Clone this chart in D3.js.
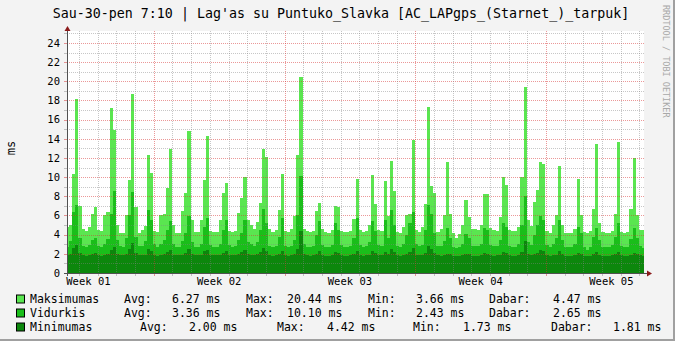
<!DOCTYPE html>
<html><head><meta charset="utf-8">
<script src="https://cdn.jsdelivr.net/npm/d3@7"></script>
<style>body{margin:0;background:#F3F3F3} svg{display:block}</style>
</head><body><svg id="c" width="675" height="341"></svg>
<script>
const titleText = "Sau-30-pen 7:10 | Lag'as su Puntuko_Slavka [AC_LAPgps_(Starnet_)_tarpuk]";
const yAxisLabel = "ms";
const watermark = "RRDTOOL / TOBI OETIKER";
const startTime = new Date(2014, 11, 30, 7, 10);
const endTime = new Date(2015, 0, 30, 7, 10);
const stepHours = 4;

// 4-hour bins, 6 per day (day rows)
const maxValues = [
 4.8, 5.0, 10.3, 18.2, 7.0, 4.6,
 4.4, 4.8, 6.2, 6.9, 4.5, 4.4,
 6.0, 6.4, 17.2, 14.9, 5.0, 4.2,
 4.2, 6.0, 9.7, 18.7, 6.9, 4.2,
 4.5, 4.9, 12.3, 10.4, 4.4, 4.3,
 6.0, 6.2, 8.9, 12.9, 5.0, 4.2,
 4.2, 6.5, 8.3, 14.8, 5.5, 4.3,
 4.3, 5.5, 9.7, 14.3, 4.4, 4.3,
 4.3, 5.5, 8.3, 9.4, 4.4, 4.3,
 4.4, 6.3, 7.8, 10.0, 5.5, 5.0,
 4.6, 5.3, 7.3, 12.9, 12.1, 4.6,
 4.3, 4.5, 6.6, 10.3, 4.4, 4.3,
 4.6, 5.9, 12.3, 20.44, 4.6, 4.4,
 4.3, 4.4, 6.5, 7.3, 4.6, 4.3,
 4.2, 4.5, 7.0, 6.9, 4.4, 4.3,
 4.3, 4.4, 5.6, 9.8, 4.5, 4.3,
 4.4, 5.0, 10.2, 7.2, 4.5, 4.4,
 9.6, 5.9, 11.7, 8.6, 4.3, 4.2,
 4.8, 6.0, 6.2, 13.9, 4.5, 4.3,
 4.8, 7.2, 17.3, 9.1, 8.3, 4.3,
 4.6, 6.0, 11.6, 6.2, 4.2, 3.66,
 4.1, 5.0, 7.6, 5.8, 4.6, 4.6,
 4.5, 5.0, 8.2, 8.2, 4.7, 4.5,
 4.4, 5.8, 10.0, 9.2, 4.5, 4.4,
 4.4, 4.8, 10.0, 19.4, 5.5, 4.9,
 7.4, 8.7, 11.6, 11.4, 4.4, 4.2,
 5.0, 6.0, 11.2, 5.0, 4.2, 4.2,
 4.2, 4.6, 9.8, 6.0, 4.3, 4.2,
 4.4, 6.7, 13.5, 5.2, 4.3, 4.2,
 4.2, 4.4, 6.2, 13.7, 4.3, 4.2,
 4.3, 6.7, 12.0, 6.0, 4.5, 4.47
];
const avgValues = [
 2.7, 3.3, 6.4, 7.1, 3.6, 2.8,
 2.7, 2.9, 3.4, 3.6, 2.8, 2.7,
 3.0, 3.5, 6.2, 8.6, 3.4, 2.8,
 2.7, 3.6, 6.0, 8.5, 3.8, 2.8,
 2.8, 3.3, 6.6, 5.5, 3.0, 2.7,
 3.0, 3.4, 4.5, 5.4, 3.0, 2.7,
 2.7, 3.3, 4.2, 5.9, 3.2, 2.7,
 2.7, 3.0, 4.8, 5.7, 2.9, 2.7,
 2.7, 3.0, 4.5, 5.5, 2.9, 2.7,
 2.8, 3.4, 4.2, 5.5, 3.2, 3.0,
 2.8, 3.2, 4.5, 6.7, 5.2, 2.8,
 2.7, 2.8, 3.8, 5.7, 2.8, 2.7,
 2.8, 3.4, 6.0, 10.1, 3.0, 2.7,
 2.7, 2.8, 4.0, 5.4, 2.9, 2.7,
 2.7, 2.9, 5.2, 4.5, 2.9, 2.7,
 2.7, 2.8, 3.6, 5.7, 2.9, 2.7,
 2.8, 3.2, 5.4, 4.4, 2.9, 2.8,
 5.5, 3.6, 6.6, 5.0, 2.8, 2.7,
 3.0, 4.0, 5.2, 6.4, 3.0, 2.8,
 2.9, 4.5, 7.1, 6.2, 4.2, 2.8,
 2.8, 3.3, 4.7, 3.6, 2.7, 2.6,
 2.7, 3.0, 4.1, 3.6, 2.8, 2.8,
 2.8, 3.0, 4.7, 4.5, 2.9, 2.8,
 2.8, 3.4, 5.2, 4.8, 2.8, 2.7,
 2.7, 3.0, 5.0, 8.0, 3.2, 2.9,
 4.0, 5.0, 5.9, 5.5, 2.9, 2.7,
 3.0, 3.6, 5.5, 3.4, 2.7, 2.7,
 2.7, 3.0, 4.8, 4.2, 2.7, 2.43,
 2.7, 3.8, 4.7, 3.4, 2.7, 2.7,
 2.7, 2.9, 3.8, 5.2, 2.8, 2.7,
 2.7, 3.5, 4.7, 3.6, 2.8, 2.65
];
const minValues = [
 1.85, 2.0, 2.6, 2.9, 2.1, 1.85,
 1.8, 1.85, 2.0, 2.1, 1.85, 1.8,
 1.85, 1.95, 2.4, 2.7, 2.0, 1.85,
 1.85, 2.0, 2.5, 3.1, 2.1, 1.85,
 1.85, 1.9, 2.5, 2.3, 1.9, 1.8,
 1.9, 1.95, 2.2, 2.4, 1.9, 1.85,
 1.85, 1.9, 2.1, 2.5, 2.0, 1.85,
 1.85, 1.9, 2.3, 2.4, 1.9, 1.85,
 1.85, 1.9, 2.1, 2.3, 1.9, 1.85,
 1.85, 2.0, 2.2, 2.4, 2.0, 1.9,
 1.85, 1.95, 2.2, 2.6, 2.3, 1.85,
 1.8, 1.85, 2.0, 2.3, 1.85, 1.8,
 1.85, 1.95, 2.5, 4.42, 2.0, 1.85,
 1.8, 1.85, 2.0, 2.3, 1.85, 1.8,
 1.8, 1.85, 2.2, 2.1, 1.85, 1.8,
 1.8, 1.85, 2.0, 2.3, 1.85, 1.8,
 1.85, 1.9, 2.3, 2.1, 1.85, 1.85,
 2.2, 1.95, 2.5, 2.2, 1.85, 1.8,
 1.9, 2.0, 2.2, 2.6, 1.9, 1.85,
 1.85, 2.1, 2.8, 2.5, 2.1, 1.85,
 1.8, 1.85, 2.0, 1.95, 1.8, 1.8,
 1.8, 1.85, 2.0, 1.95, 1.8, 1.8,
 1.8, 1.85, 2.1, 2.0, 1.85, 1.8,
 1.85, 1.9, 2.2, 2.1, 1.85, 1.8,
 1.8, 1.9, 2.2, 3.3, 1.95, 1.85,
 1.95, 2.1, 2.4, 2.3, 1.85, 1.8,
 1.85, 1.9, 2.3, 1.95, 1.8, 1.8,
 1.8, 1.85, 2.1, 2.0, 1.8, 1.73,
 1.8, 1.95, 2.2, 1.9, 1.8, 1.8,
 1.8, 1.85, 1.95, 2.2, 1.85, 1.8,
 1.8, 1.9, 2.1, 1.95, 1.85, 1.81
];

const yTickValues = [0, 2, 4, 6, 8, 10, 12, 14, 16, 18, 20, 22, 24];
const weekLabels = ["Week 01", "Week 02", "Week 03", "Week 04", "Week 05"];
const weekLabelTimes = [new Date(2014,11,31,12), new Date(2015,0,7,12), new Date(2015,0,14,12), new Date(2015,0,21,12), new Date(2015,0,28,12)];

const seriesNames = ["Maksimumas", "Vidurkis", "Minimumas"];
const seriesColors = ["#5AE650", "#1ABE1A", "#0C870C"];
const statAvg = ["6.27 ms", "3.36 ms", "2.00 ms"];
const statMax = ["20.44 ms", "10.10 ms", "4.42 ms"];
const statMin = ["3.66 ms", "2.43 ms", "1.73 ms"];
const statNow = ["4.47 ms", "2.65 ms", "1.81 ms"];
const statLabels = ["Avg:", "Max:", "Min:", "Dabar:"];

const svg = d3.select("#c");
const MONO = "'DejaVu Sans Mono', monospace";
const x = d3.scaleTime().domain([startTime, endTime]).range([66, 645]);
const y = d3.scaleLinear().domain([0, 25.25]).range([273, 31]);

// background + frame
svg.append("rect").attr("width",675).attr("height",341).attr("fill","#F3F3F3");
svg.append("rect").attr("x",673).attr("y",0).attr("width",2).attr("height",341).attr("fill","#A0A0A0");
svg.append("rect").attr("x",0).attr("y",339).attr("width",675).attr("height",2).attr("fill","#A0A0A0");
svg.append("rect").attr("x",67).attr("y",31).attr("width",577).attr("height",242).attr("fill","#FFFFFF");

svg.append("defs").append("clipPath").attr("id","plot").append("rect")
  .attr("x",67).attr("y",31).attr("width",577).attr("height",242);

const bins = maxValues.map((v,i)=>({t:new Date(+startTime + i*stepHours*3600e3), max:v, avg:avgValues[i], min:minValues[i]}));
bins.push({t:endTime, max:maxValues[maxValues.length-1], avg:avgValues[avgValues.length-1], min:minValues[minValues.length-1]});

const g = svg.append("g").attr("clip-path","url(#plot)");
["max","avg","min"].forEach((k,i)=>{
  g.append("path").datum(bins)
   .attr("d", d3.area().x(d=>x(d.t)).y0(y(0)).y1(d=>y(d[k])).curve(d3.curveStepAfter))
   .attr("fill", seriesColors[i]).attr("shape-rendering","crispEdges");
});

// grid
const grid = svg.append("g").attr("shape-rendering","crispEdges");
const minorC = "rgba(130,130,130,0.45)", majorC = "rgba(215,50,50,0.5)";
d3.range(1,26).forEach(v=>{
  const major = v%2===0;
  const yy = Math.round(y(v))+0.5;
  grid.append("line").attr("x1",67).attr("x2",645).attr("y1",yy).attr("y2",yy)
    .attr("stroke", major?majorC:minorC).attr("stroke-dasharray","1,1");
  grid.append("line").attr("x1",64).attr("x2",67).attr("y1",yy).attr("y2",yy)
    .attr("stroke", major?majorC:minorC);
});
d3.timeDay.range(startTime, endTime).forEach(t=>{
  const major = t.getDay()===0;
  const xx = Math.round(x(t))+0.5;
  grid.append("line").attr("x1",xx).attr("x2",xx).attr("y1",31).attr("y2",273)
    .attr("stroke", major?majorC:minorC).attr("stroke-dasharray","1,1");
  grid.append("line").attr("x1",xx).attr("x2",xx).attr("y1",273).attr("y2",276)
    .attr("stroke", major?majorC:minorC);
});

// axes
svg.append("line").attr("x1",67.5).attr("x2",67.5).attr("y1",276).attr("y2",30).attr("stroke","#505050");
svg.append("line").attr("x1",64).attr("x2",648).attr("y1",273.5).attr("y2",273.5).attr("stroke","#505050");
svg.append("path").attr("d","M64.5,31 L67.5,26 L70.5,31 Z").attr("fill","#8B1A1A");
svg.append("path").attr("d","M647,270.5 L652,273.5 L647,276.5 Z").attr("fill","#8B1A1A");

// y tick labels
svg.append("g").selectAll("text").data(yTickValues).join("text")
  .attr("x",60).attr("y",d=>y(d)+3.8).attr("text-anchor","end")
  .attr("font-family",MONO).attr("font-size","10.5px").attr("fill","#000").text(d=>d);
// week labels
svg.append("g").selectAll("text").data(weekLabels).join("text")
  .attr("x",(d,i)=>x(weekLabelTimes[i])).attr("y",285).attr("text-anchor","middle")
  .attr("font-family",MONO).attr("font-size","10.5px").attr("fill","#000").text(d=>d);

// y axis title
svg.append("text").attr("transform","translate(15,148) rotate(-90)").attr("text-anchor","middle")
  .attr("font-family",MONO).attr("font-size","12px").text(yAxisLabel);
// title
svg.append("text").attr("x",341).attr("y",17.5).attr("text-anchor","middle")
  .attr("font-family",MONO).attr("font-size","13.3px").attr("fill","#000").text(titleText);
// watermark
svg.append("text").attr("transform","translate(662.5,5) rotate(90)")
  .attr("font-family",MONO).attr("font-size","8.5px").attr("fill","#A8A8A8").text(watermark);

// legend
const rowY = [302.5, 316.5, 330.5];
const colsA = [124, 172, 246, 287, 368, 416, 489, 553];
const colsB = [140, 189, 277, 327, 413, 463, 551, 613];
seriesNames.forEach((name,i)=>{
  const lg = svg.append("g");
  lg.append("rect").attr("x",16.5).attr("y",rowY[i]-7.5).attr("width",8).attr("height",8)
    .attr("fill",seriesColors[i]).attr("stroke","#000").attr("stroke-width",1);
  const cols = i===2 ? colsB : colsA;
  const tokens = [name, statLabels[0], statAvg[i], statLabels[1], statMax[i], statLabels[2], statMin[i], statLabels[3], statNow[i]];
  const xs = [30].concat(cols);
  tokens.forEach((tk,j)=>{
    lg.append("text").attr("x",xs[j]).attr("y",rowY[i]).attr("font-family",MONO)
      .attr("font-size","11.5px").attr("fill","#000").attr("xml:space","preserve").text(tk);
  });
});
</script></body></html>
